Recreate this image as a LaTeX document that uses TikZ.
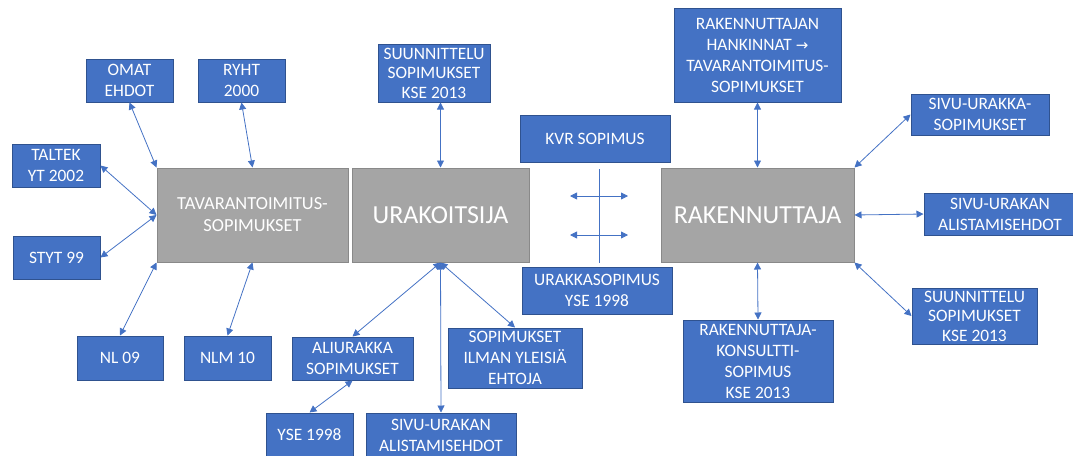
\documentclass[tikz,border=0pt]{standalone}
\usepackage{fontspec}
\setmainfont{Carlito}
\newfontfamily\dvfont{DejaVu Sans}
\usetikzlibrary{arrows.meta}
\definecolor{offblue}{HTML}{4472C4}
\definecolor{offborder}{HTML}{2F528F}
\definecolor{offgrey}{HTML}{A5A5A5}
\definecolor{greyborder}{HTML}{898989}
\tikzset{
  bluebox/.style={draw=offborder, fill=offblue, text=white, align=center, inner sep=0pt,
    line width=1pt, font=\fontsize{17.4}{21}\selectfont},
  greybox/.style={draw=greyborder, fill=offgrey, text=white, align=center, inner sep=0pt,
    line width=1pt},
  link/.style={draw=offblue, line width=0.8pt,
    {Triangle[length=7pt,width=7pt]}-{Triangle[length=7pt,width=7pt]}},
  sz/.style 2 args={minimum width=#1pt, minimum height=#2pt}
}
\begin{document}
\begin{tikzpicture}[x=1pt,y=-1pt]
\useasboundingbox (0,0) rectangle (1073,455);
% left group
\node[greybox, sz={191}{94}, font=\fontsize{18.4}{22}\selectfont] (tav) at (252.5,215) {TAVARANTOIMITUS-\\SOPIMUKSET};
\node[bluebox, sz={87}{43}] (omat) at (129.5,80.5) {OMAT\\EHDOT};
\node[bluebox, sz={87}{43}] (ryht) at (241.5,80.5) {RYHT\\2000};
\node[bluebox, sz={88}{43}] (taltek) at (56,165.5) {TALTEK\\YT 2002};
\node[bluebox, sz={87}{43}] (styt) at (56.5,257.5) {STYT 99};
\node[bluebox, sz={86}{44}] (nl) at (120,358) {NL 09};
\node[bluebox, sz={87}{44}] (nlm) at (227.5,358) {NLM 10};
% contractor
\node[greybox, sz={177}{94}, font=\fontsize{26}{30}\selectfont] (ura) at (440.5,215) {URAKOITSIJA};
\node[bluebox, sz={112}{58}, font=\fontsize{17.4}{19.5}\selectfont] (suun1) at (434,73) {SUUNNITTELU\\SOPIMUKSET\\KSE 2013};
\node[bluebox, sz={121}{43}] (ali) at (352.5,358.5) {ALIURAKKA\\SOPIMUKSET};
\node[bluebox, sz={134}{60}] (sop) at (515,358) {SOPIMUKSET\\ILMAN YLEISIÄ\\EHTOJA};
\node[bluebox, sz={87}{44}] (yse) at (309.5,435) {YSE 1998};
\node[bluebox, sz={150}{44}] (sivu2) at (441,435) {SIVU-URAKAN\\ALISTAMISEHDOT};
% middle
\node[bluebox, sz={150}{47}] (kvr) at (595,138.5) {KVR SOPIMUS};
\node[bluebox, sz={150}{47}] (urakka) at (597,290.5) {URAKKASOPIMUS\\YSE 1998};
% client
\node[greybox, sz={193}{94}, font=\fontsize{26}{30}\selectfont] (rak) at (757.5,215) {RAKENNUTTAJA};
\node[bluebox, sz={167}{94}] (hank) at (757.5,55) {RAKENNUTTAJAN\\HANKINNAT {\dvfont\fontsize{15}{21}\selectfont →}\\TAVARANTOIMITUS-\\SOPIMUKSET};
\node[bluebox, sz={138}{41}] (sivuU) at (980,114.5) {SIVU-URAKKA-\\SOPIMUKSET};
\node[bluebox, sz={152}{42}] (sivuA) at (1000,214) {SIVU-URAKAN\\ALISTAMISEHDOT};
\node[bluebox, sz={125}{56}, font=\fontsize{17.4}{19.5}\selectfont] (suun2) at (974.5,316) {SUUNNITTELU\\SOPIMUKSET\\KSE 2013};
\node[bluebox, sz={150}{82}] (kons) at (758,361) {RAKENNUTTAJA-\\KONSULTTI-\\SOPIMUS\\KSE 2013};
% connectors left
\draw[link] (omat.south) -- (tav.north west);
\draw[link] (ryht.south) -- (tav.north);
\draw[link] (taltek.east) -- (tav.west);
\draw[link] (styt.east) -- (tav.west);
\draw[link] (nl.north) -- (tav.south west);
\draw[link] (nlm.north) -- (tav.south);
% connectors contractor
\draw[link] (ura.north) -- (ura.north |- suun1.south);
\draw[link] (ura.south) -- (ali.north);
\draw[link] (ura.south) -- (sop.north);
\draw[link] (ura.south) -- (sivu2.north);
\draw[link] (ali.south) -- (yse.north);
% middle symbols
\coordinate (vt) at (599,169);
\coordinate (vb) at (599,263);
\coordinate (a1l) at (570,196);
\coordinate (a1r) at (628,196);
\coordinate (a2l) at (570,235);
\coordinate (a2r) at (628,235);
\draw[offblue, line width=0.8pt] (vt) -- (vb);
\draw[link] (a1l) -- (a1r);
\draw[link] (a2l) -- (a2r);
% connectors client
\draw[link] (rak.north) -- (hank.south);
\draw[link] (rak.south) -- (kons.north);
\draw[link] (rak.east) -- (sivuA.west);
\draw[link] (rak.north east) -- (sivuU.west);
\draw[link] (rak.south east) -- (suun2.west);
\end{tikzpicture}
\end{document}
